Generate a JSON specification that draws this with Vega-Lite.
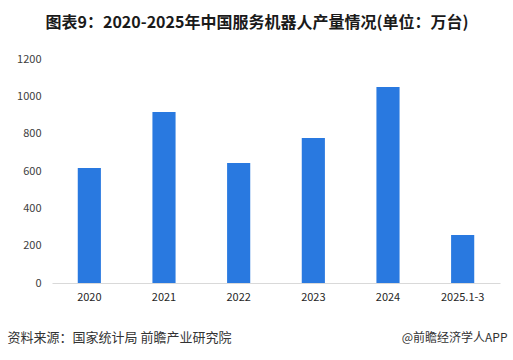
{
  "$schema": "https://vega.github.io/schema/vega-lite/v6.json",
  "width": 448,
  "height": 224,
  "autosize": {"type": "none"},
  "padding": {"left": 52, "top": 59, "right": 13, "bottom": 77},
  "background": "white",
  "config": {"view": {"stroke": null}, "font": "Noto Sans CJK SC"},
  "title": {
    "text": "图表9：2020-2025年中国服务机器人产量情况(单位：万台)",
    "fontSize": 16,
    "fontWeight": "bold",
    "color": "#1a1a1a",
    "anchor": "middle",
    "dx": -19,
    "offset": 22,
    "font": "Noto Sans CJK SC"
  },
  "data": {
    "values": [
      {"year": "2020", "value": 616},
      {"year": "2021", "value": 916},
      {"year": "2022", "value": 643},
      {"year": "2023", "value": 777},
      {"year": "2024", "value": 1050},
      {"year": "2025.1-3", "value": 257}
    ]
  },
  "mark": {"type": "bar", "color": "#2979E0"},
  "encoding": {
    "x": {
      "field": "year",
      "type": "nominal",
      "sort": null,
      "scale": {"paddingInner": 0.69, "paddingOuter": 0.345},
      "axis": {
        "labelAngle": 0,
        "labelFontSize": 11,
        "labelColor": "#262626",
        "labelPadding": 8,
        "ticks": false,
        "domainColor": "#d9d9d9",
        "domainWidth": 1,
        "title": "资料来源：国家统计局 前瞻产业研究院",
        "titleFontSize": 13,
        "titleFontWeight": "normal",
        "titleColor": "#333333",
        "titleAnchor": "start",
        "titleAlign": "left",
        "titleBaseline": "middle",
        "titleX": -45,
        "titleY": 54
      }
    },
    "y": {
      "field": "value",
      "type": "quantitative",
      "scale": {"domain": [0, 1200]},
      "axis": {
        "values": [0, 200, 400, 600, 800, 1000, 1200],
        "format": "d",
        "grid": false,
        "domain": false,
        "ticks": false,
        "labelFontSize": 11,
        "labelColor": "#404040",
        "labelPadding": 11,
        "title": "@前瞻经济学人APP",
        "titleFontSize": 12,
        "titleFontWeight": "normal",
        "titleColor": "#333333",
        "titleAngle": 0,
        "titleAlign": "right",
        "titleBaseline": "middle",
        "titleX": 455,
        "titleY": 278
      }
    }
  }
}
